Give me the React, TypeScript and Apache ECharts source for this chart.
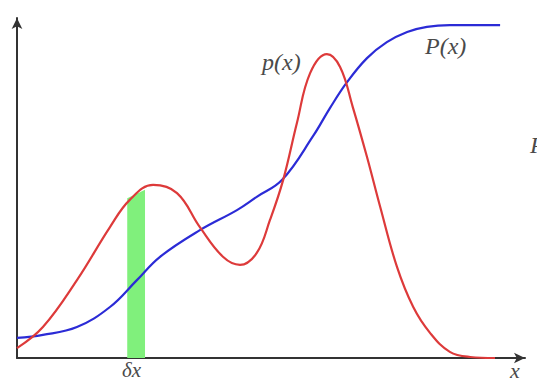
import React, { useEffect, useRef } from "react";
import * as echarts from "echarts";

// density p(x)
const redX = [0, 5.1, 11.8, 18.3, 22.2, 26.8, 31.5, 36.0, 40.6, 43.9, 47.2, 49.8, 52.4, 55.1, 57.7, 61.0, 63.6, 66.1, 68.9, 71.5, 74.8, 78.0, 81.3, 85.2, 89.2, 94.1];
const redY = [2.9, 9.1, 22.9, 38.5, 46.5, 50.9, 48.5, 38.5, 29.7, 27.4, 30.9, 40.6, 52.4, 69.1, 83.8, 89.4, 85.6, 73.8, 59.1, 44.4, 26.8, 15.0, 7.4, 1.8, 0.3, 0];

// cumulative P(x)
const blueX = [0, 5.1, 11.8, 18.3, 23.6, 28.1, 36.0, 43.3, 47.2, 52.2, 58.3, 61.6, 65.0, 68.9, 72.8, 76.8, 80.7, 85.2, 95.1];
const blueY = [5.9, 6.8, 9.1, 15.0, 22.9, 29.7, 37.6, 43.5, 47.4, 52.4, 65.3, 73.5, 81.2, 88.2, 92.9, 95.9, 97.4, 97.9, 97.9];

// δx strip
const stripX = [21.7, 25.2];
const stripY = [47.0, 49.5];

const zip = (xs: number[], ys: number[]) => xs.map((x, i) => [x, ys[i]]);

const serif = "'Liberation Serif', 'DejaVu Serif', serif";

export default function App() {
  const ref = useRef<HTMLDivElement>(null);
  useEffect(() => {
    const chart = echarts.init(ref.current!, null, { renderer: "svg" });
    const txt = (text: string, x: number, y: number, size = 24) => ({
      type: "text",
      x,
      y,
      style: {
        text,
        fill: "#4a4a4a",
        font: `italic ${size}px ${serif}`,
        textVerticalAlign: "middle",
      },
      z: 10,
    });
    chart.setOption({
      animation: false,
      backgroundColor: "#fff",
      grid: { left: 17, right: 12, top: 18, bottom: 24, containLabel: false },
      xAxis: {
        type: "value",
        min: 0,
        max: 100,
        axisLine: {
          show: true,
          onZero: false,
          symbol: ["none", "arrow"],
          symbolSize: [8, 11],
          lineStyle: { color: "#333", width: 2 },
        },
        axisTick: { show: false },
        axisLabel: { show: false },
        splitLine: { show: false },
      },
      yAxis: {
        type: "value",
        min: 0,
        max: 100,
        axisLine: {
          show: true,
          onZero: false,
          symbol: ["none", "arrow"],
          symbolSize: [8, 11],
          lineStyle: { color: "#333", width: 2 },
        },
        axisTick: { show: false },
        axisLabel: { show: false },
        splitLine: { show: false },
      },
      series: [
        {
          type: "line",
          data: zip(stripX, stripY),
          symbol: "none",
          lineStyle: { width: 0 },
          areaStyle: { color: "#80f07c", opacity: 1 },
          z: 1,
        },
        {
          type: "line",
          data: zip(blueX, blueY),
          symbol: "none",
          smooth: 0.4,
          lineStyle: { color: "#2b2bd6", width: 2.2 },
          z: 3,
        },
        {
          type: "line",
          data: zip(redX, redY),
          symbol: "none",
          smooth: 0.4,
          lineStyle: { color: "#dd3a3a", width: 2.2 },
          z: 4,
        },
      ],
      graphic: [
        txt("p(x)", 262, 62),
        txt("P(x)", 425, 46),
        txt("δx", 122, 370, 21),
        txt("x", 510, 370, 22),
        txt("P", 530, 145),
      ],
    });
    return () => chart.dispose();
  }, []);
  return (
    <div
      ref={ref}
      style={{ position: "fixed", left: 0, top: 0, width: 537, height: 382 }}
    />
  );
}
